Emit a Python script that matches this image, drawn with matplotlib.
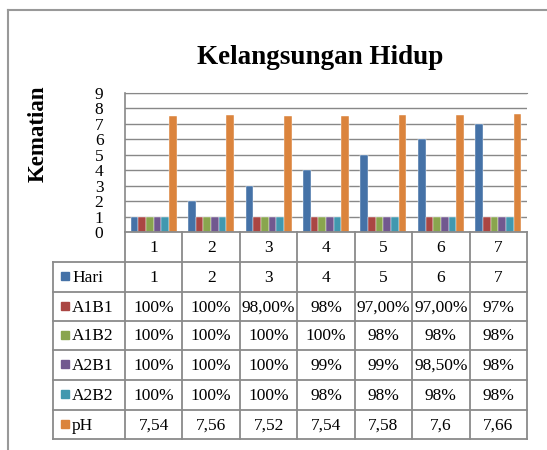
import matplotlib
matplotlib.use("Agg")
import matplotlib.pyplot as plt
import numpy as np

plt.rcParams['font.family'] = ['Liberation Serif', 'DejaVu Serif']

categories = ["1", "2", "3", "4", "5", "6", "7"]
series_names = ["Hari", "A1B1", "A1B2", "A2B1", "A2B2", "pH"]
hari = [1, 2, 3, 4, 5, 6, 7]
a1b1 = [1.00, 1.00, 0.98, 0.98, 0.97, 0.97, 0.97]
a1b2 = [1.00, 1.00, 1.00, 1.00, 0.98, 0.98, 0.98]
a2b1 = [1.00, 1.00, 1.00, 0.99, 0.99, 0.985, 0.98]
a2b2 = [1.00, 1.00, 1.00, 0.98, 0.98, 0.98, 0.98]
ph = [7.54, 7.56, 7.52, 7.54, 7.58, 7.6, 7.66]

hari_lbl = ["1", "2", "3", "4", "5", "6", "7"]
a1b1_lbl = ["100%", "100%", "98,00%", "98%", "97,00%", "97,00%", "97%"]
a1b2_lbl = ["100%", "100%", "100%", "100%", "98%", "98%", "98%"]
a2b1_lbl = ["100%", "100%", "100%", "99%", "99%", "98,50%", "98%"]
a2b2_lbl = ["100%", "100%", "100%", "98%", "98%", "98%", "98%"]
ph_lbl = ["7,54", "7,56", "7,52", "7,54", "7,58", "7,6", "7,66"]

values = [hari, a1b1, a1b2, a2b1, a2b2, ph]
labels = [hari_lbl, a1b1_lbl, a1b2_lbl, a2b1_lbl, a2b2_lbl, ph_lbl]
colors = ["#4572A7", "#AA4643", "#89A54E", "#71588F", "#4198AF", "#DB843D"]

W, H = 547, 450
fig = plt.figure(figsize=(W / 100, H / 100), dpi=100)

px_l, px_r, px_t, px_b = 125, 527, 93, 232
ax = fig.add_axes([px_l / W, 1 - px_b / H, (px_r - px_l) / W, (px_b - px_t) / H])

n = len(categories)
x = np.arange(n)
bw = 0.8 / len(series_names)
for j, (vals, c) in enumerate(zip(values, colors)):
    ax.bar(x + (j - 2.5) * bw, vals, width=bw, color=c, edgecolor='white',
           linewidth=0.3, zorder=3)

ax.set_xlim(-0.5, n - 0.5)
ax.set_ylim(0, 9)
ax.set_yticks(range(0, 10))
ax.set_yticklabels([str(i) for i in range(10)], fontsize=12.5)
ax.tick_params(axis='y', length=0, pad=15.5)
ax.set_xticks([])
ax.grid(axis='y', color='#888888', linewidth=1.0, zorder=0)
for s in ['right', 'bottom']:
    ax.spines[s].set_visible(False)
ax.spines['top'].set_color('#888888')
ax.spines['left'].set_color('#888888')
ax.spines['left'].set_linewidth(1.2)

# overlay in pixel coordinates for table and frame
ov = fig.add_axes([0, 0, 1, 1], facecolor='none')
ov.set_xlim(0, W)
ov.set_ylim(H, 0)
ov.axis('off')

lc = '#8a8a8a'
lw = 1.3
col_edges = [px_l + k * (px_r - px_l) / n for k in range(n + 1)]
row_edges = [232, 262, 292, 321, 350, 380, 410, 439]
tab_left = 53

ov.plot([px_l, px_r], [row_edges[0], row_edges[0]], color=lc, lw=lw)
for r in row_edges[1:]:
    ov.plot([tab_left, px_r], [r, r], color=lc, lw=lw)
ov.plot([tab_left, tab_left], [row_edges[1], row_edges[-1]], color=lc, lw=lw)
for ce in col_edges:
    ov.plot([ce, ce], [row_edges[0], row_edges[-1]], color=lc, lw=lw)

fs = 12.5
for k, cat in enumerate(categories):
    cx = (col_edges[k] + col_edges[k + 1]) / 2
    ov.text(cx, (row_edges[0] + row_edges[1]) / 2 + 1, cat, ha='center', va='center', fontsize=fs)
for i, (name, lbls, c) in enumerate(zip(series_names, labels, colors)):
    cy = (row_edges[i + 1] + row_edges[i + 2]) / 2
    ov.add_patch(plt.Rectangle((61, cy - 5), 8, 8, color=c))
    ov.text(72, cy + 1, name, ha='left', va='center', fontsize=fs)
    for k, t in enumerate(lbls):
        cx = (col_edges[k] + col_edges[k + 1]) / 2
        ov.text(cx, cy + 1, t, ha='center', va='center', fontsize=fs)

# outer frame
ov.plot([7.5, 7.5], [9.5, H], color='#999999', lw=1.5)
ov.plot([7.5, W], [9.5, 9.5], color='#999999', lw=1.5)

# title and y label
ov.text(320, 57, "Kelangsungan Hidup", ha='center', va='center', fontsize=19.5, fontweight='bold')
ov.text(38, 134, "Kematian", ha='center', va='center', rotation=90, fontsize=16.5, fontweight='bold')

fig.savefig("out.png", dpi=100)
